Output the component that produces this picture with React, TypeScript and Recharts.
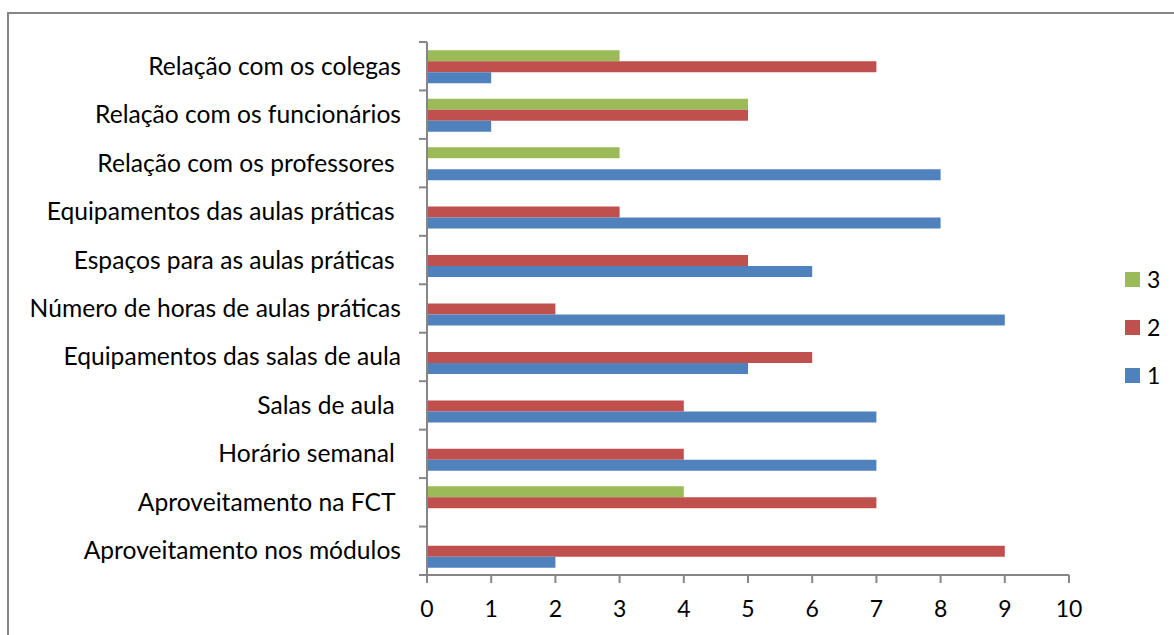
import React from 'react';
import { BarChart, Bar, XAxis, YAxis } from 'recharts';

const categories = [
  'Relação com os colegas',
  'Relação com os funcionários',
  'Relação com os professores ',
  'Equipamentos das aulas práticas ',
  'Espaços para as aulas práticas ',
  'Número de horas de aulas práticas',
  'Equipamentos das salas de aula',
  'Salas de aula ',
  'Horário semanal ',
  'Aproveitamento na FCT ',
  'Aproveitamento nos módulos',
];
const series3 = [3, 5, 3, 0, 0, 0, 0, 0, 0, 4, 0];
const series2 = [7, 5, 0, 3, 5, 2, 6, 4, 4, 7, 9];
const series1 = [1, 1, 8, 8, 6, 9, 5, 7, 7, 0, 2];
const xTicks = [0, 1, 2, 3, 4, 5, 6, 7, 8, 9, 10];
const seriesKeys = ['s3', 's2', 's1'];
const seriesNames = ['3', '2', '1'];
const seriesColors = ['#9BBB59', '#C0504D', '#4F81BD'];

const AXIS = '#868686';
const FONT = 'Lato, "Open Sans", sans-serif';
const FS_Y = 25;
const SX_Y = 0.985;
const FS_X = 23;
const SX_X = 1.0;

const XTick = (props: any) => {
  const { x, y, payload } = props;
  return (
    <g>
      <line x1={x} x2={x} y1={y} y2={y + 8} stroke={AXIS} strokeWidth={2} />
      <text
        transform={`translate(${x},${y + 42}) scale(${SX_X},1)`}
        textAnchor="middle"
        fontFamily={FONT}
        fontSize={FS_X}
        fill="#000"
      >
        {payload.value}
      </text>
    </g>
  );
};

const YTick = (props: any) => {
  const { x, y, payload, index, visibleTicksCount, height } = props;
  const band = height && visibleTicksCount ? height / visibleTicksCount : 0;
  const half = band / 2;
  return (
    <g>
      <line x1={x - 8} x2={x} y1={y - half} y2={y - half} stroke={AXIS} strokeWidth={2} />
      {index === visibleTicksCount - 1 && (
        <line x1={x - 8} x2={x} y1={y + half} y2={y + half} stroke={AXIS} strokeWidth={2} />
      )}
      <text
        transform={`translate(${x - 26},${y + 8.5}) scale(${SX_Y},1)`}
        textAnchor="end"
        fontFamily={FONT}
        fontSize={FS_Y}
        fill="#000"
        style={{ whiteSpace: 'pre' }}
      >
        {payload.value}
      </text>
    </g>
  );
};

export default function App() {
  const data = categories.map((name, i) => ({
    name,
    s3: series3[i],
    s2: series2[i],
    s1: series1[i],
  }));
  return (
    <div
      style={{
        position: 'fixed',
        left: 0,
        top: 0,
        width: 1174,
        height: 635,
        overflow: 'hidden',
        background: '#fff',
      }}
    >
      <div
        style={{
          position: 'absolute',
          left: 7,
          top: 12,
          width: 1200,
          height: 700,
          border: `2px solid ${AXIS}`,
          boxSizing: 'border-box',
        }}
      />
      <div style={{ position: 'absolute', left: 0, top: 0 }}>
        <BarChart
          width={1174}
          height={635}
          data={data}
          layout="vertical"
          margin={{ top: 42, right: 105, bottom: 0, left: 0 }}
          barCategoryGap="17%"
          barGap={0}
        >
          <XAxis
            type="number"
            domain={[0, 10]}
            ticks={xTicks}
            interval={0}
            height={60}
            axisLine={{ stroke: AXIS, strokeWidth: 2 }}
            tickLine={false}
            tickSize={0}
            tickMargin={0}
            tick={<XTick />}
          />
          <YAxis
            type="category"
            dataKey="name"
            width={427}
            interval={0}
            axisLine={{ stroke: AXIS, strokeWidth: 2 }}
            tickLine={false}
            tickSize={0}
            tickMargin={0}
            tick={<YTick />}
          />
          {seriesKeys.map((k, i) => (
            <Bar
              key={k}
              dataKey={k}
              name={seriesNames[i]}
              fill={seriesColors[i]}
              isAnimationActive={false}
            />
          ))}
        </BarChart>
      </div>
      <svg
        width={1174}
        height={635}
        style={{ position: 'absolute', left: 0, top: 0, pointerEvents: 'none' }}
      >
        {seriesNames.map((n, i) => (
          <g key={n} transform={`translate(1125,${272 + i * 48})`}>
            <rect x={0} y={0} width={15} height={15} fill={seriesColors[i]} />
            <text
              transform={`translate(22,15.5) scale(${SX_X},1)`}
              fontFamily={FONT}
              fontSize={FS_X}
              fill="#000"
            >
              {n}
            </text>
          </g>
        ))}
      </svg>
    </div>
  );
}
